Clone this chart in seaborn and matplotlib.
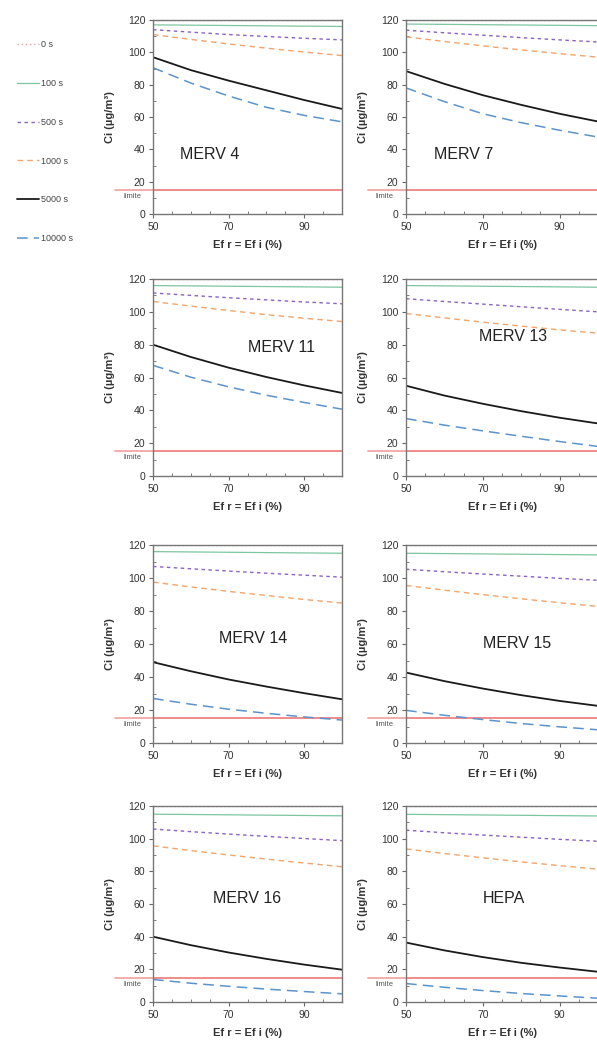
import numpy as np
import pandas as pd
import matplotlib
matplotlib.use("Agg")
import matplotlib.pyplot as plt
import seaborn as sns

# Filter efficiency (Ef r = Ef i, %)
efficiency = [50, 60, 70, 80, 90, 100]

times = ["0 s", "100 s", "500 s", "1000 s", "5000 s", "10000 s"]

# Indoor concentration Ci (µg/m³) per filter class and elapsed time
merv4 = {
    "0 s": [120, 120, 120, 120, 120, 120],
    "100 s": [117, 116.8, 116.6, 116.4, 116.2, 116],
    "500 s": [114, 112.5, 111, 109.8, 108.7, 107.7],
    "1000 s": [111, 108, 105.2, 102.6, 100.2, 98],
    "5000 s": [97, 89, 82.5, 76.5, 70.5, 65],
    "10000 s": [90.5, 81, 73, 66, 61, 57],
}
merv7 = {
    "0 s": [120, 120, 120, 120, 120, 120],
    "100 s": [117.5, 117.3, 117.1, 116.9, 116.7, 116.5],
    "500 s": [113.7, 112.1, 110.6, 109.1, 107.7, 106.4],
    "1000 s": [109.6, 106.7, 104, 101.5, 99.2, 97],
    "5000 s": [88.4, 80.5, 73.5, 67.5, 62, 57.2],
    "10000 s": [78, 69.5, 62, 56.5, 51.8, 47.6],
}
merv11 = {
    "0 s": [120, 120, 120, 120, 120, 120],
    "100 s": [116, 115.8, 115.6, 115.4, 115.2, 115],
    "500 s": [111.5, 110, 108.6, 107.3, 106, 104.9],
    "1000 s": [106.3, 103.5, 100.8, 98.3, 96.1, 94.1],
    "5000 s": [80, 72.5, 66, 60.3, 55.2, 50.6],
    "10000 s": [67.4, 60.2, 54.3, 49.2, 44.8, 40.7],
}
merv13 = {
    "0 s": [120, 120, 120, 120, 120, 120],
    "100 s": [116, 115.8, 115.6, 115.4, 115.2, 115],
    "500 s": [108, 106.3, 104.7, 103.1, 101.5, 100],
    "1000 s": [99, 96.3, 93.7, 91.3, 89, 87],
    "5000 s": [55, 49, 44, 39.5, 35.5, 32],
    "10000 s": [35, 31, 27.5, 24.2, 21, 18],
}
merv14 = {
    "0 s": [120, 120, 120, 120, 120, 120],
    "100 s": [116, 115.8, 115.6, 115.4, 115.2, 115],
    "500 s": [107, 105.6, 104.2, 102.9, 101.7, 100.5],
    "1000 s": [97.5, 94.6, 91.9, 89.4, 87, 84.8],
    "5000 s": [49, 43.5, 38.5, 34.2, 30.2, 26.5],
    "10000 s": [27, 23.5, 20.5, 18, 15.8, 13.9],
}
merv15 = {
    "0 s": [120, 120, 120, 120, 120, 120],
    "100 s": [115, 114.8, 114.6, 114.4, 114.2, 114],
    "500 s": [105.3, 103.8, 102.4, 101.1, 99.8, 98.6],
    "1000 s": [95.5, 92.6, 89.9, 87.4, 85, 82.8],
    "5000 s": [42.7, 37.5, 33, 29, 25.5, 22.5],
    "10000 s": [19.8, 16.8, 14.2, 11.8, 9.8, 8],
}
merv16 = {
    "0 s": [120, 120, 120, 120, 120, 120],
    "100 s": [115, 114.8, 114.6, 114.4, 114.2, 114],
    "500 s": [105.9, 104.3, 102.8, 101.4, 100.1, 98.8],
    "1000 s": [95.6, 92.7, 90, 87.5, 85.1, 82.8],
    "5000 s": [40, 34.8, 30.3, 26.4, 22.9, 19.8],
    "10000 s": [13.8, 11.5, 9.6, 7.9, 6.4, 5],
}
hepa = {
    "0 s": [120, 120, 120, 120, 120, 120],
    "100 s": [114.9, 114.7, 114.5, 114.3, 114.1, 113.9],
    "500 s": [105.2, 103.6, 102.2, 100.9, 99.6, 98.4],
    "1000 s": [93.7, 90.9, 88.3, 85.8, 83.5, 81.3],
    "5000 s": [36.4, 31.6, 27.5, 24, 21.1, 18.5],
    "10000 s": [11.3, 9, 7, 5.2, 3.7, 2.3],
}

panels = [
    ("MERV 4", merv4, (65, 37)),
    ("MERV 7", merv7, (65, 37)),
    ("MERV 11", merv11, (84, 78)),
    ("MERV 13", merv13, (78, 85)),
    ("MERV 14", merv14, (76.5, 63.5)),
    ("MERV 15", merv15, (79, 60.5)),
    ("MERV 16", merv16, (75, 63.5)),
    ("HEPA", hepa, (75.5, 63.5)),
]

LIMIT = 15

palette = {
    "0 s": "#d9a6ad",
    "100 s": "#7cc6a0",
    "500 s": "#8a62c4",
    "1000 s": "#f2a46a",
    "5000 s": "#1a1a1a",
    "10000 s": "#5b93cc",
}
dashes = {
    "0 s": (1, 2),
    "100 s": "",
    "500 s": (2.5, 2.5),
    "1000 s": (4, 3),
    "5000 s": "",
    "10000 s": (7, 4),
}
widths = {"0 s": 1.0, "100 s": 0.9, "500 s": 1.0, "1000 s": 1.0,
          "5000 s": 1.3, "10000 s": 1.1}

sns.set_theme(style="white")
plt.rcParams["font.family"] = ["Liberation Sans", "DejaVu Sans"]

fig = plt.figure(figsize=(5.97, 10.45), dpi=100)

W, H = 597.0, 1045.0
col_left = [153, 406]
col_width = [189, 192]
row_top = [20, 279, 545, 806]
row_bottom = [214, 476, 743, 1002]

axes = []
for i, (name, series, txt) in enumerate(panels):
    r, c = divmod(i, 2)
    ax = fig.add_axes([col_left[c] / W, 1 - row_bottom[r] / H,
                       col_width[c] / W, (row_bottom[r] - row_top[r]) / H])
    axes.append(ax)
    df = pd.DataFrame([
        {"Ef": e, "Ci": v, "t": t}
        for t in times for e, v in zip(efficiency, series[t])
    ])
    sns.lineplot(data=df, x="Ef", y="Ci", hue="t", style="t",
                 hue_order=times, style_order=times,
                 palette=palette, dashes=dashes, legend=False, ax=ax)
    for line, t in zip(ax.get_lines(), times):
        line.set_linewidth(widths[t])
    ax.axhline(LIMIT, color="#f08a8a", lw=1.4, zorder=1)
    # extend the limit line into the left margin with its label
    ax.plot([-0.2, 0], [LIMIT, LIMIT], transform=ax.get_yaxis_transform(),
            color="#f08a8a", lw=1.4, clip_on=False, alpha=0.7)
    ax.text(-0.11, LIMIT - 4, "limite", transform=ax.get_yaxis_transform(),
            ha="center", va="center", fontsize=5.5, color="#555555")
    ax.text(txt[0], txt[1], name, ha="center", va="center",
            fontsize=11.5, color="#222222")

    ax.set_xlim(50, 100)
    ax.set_ylim(0, 120)
    ax.set_xticks([50, 70, 90])
    ax.set_yticks([0, 20, 40, 60, 80, 100, 120])
    ax.set_xticks(np.arange(50, 101, 5), minor=True)
    ax.set_yticks(np.arange(0, 121, 10), minor=True)
    ax.tick_params(axis="both", which="major", direction="out", length=3,
                   width=0.8, color="#666666", labelsize=7.5, pad=2.5,
                   labelcolor="#333333")
    ax.tick_params(axis="both", which="minor", direction="in", length=2,
                   width=0.6, color="#666666")
    ax.tick_params(bottom=True, left=True, which="both")
    for s in ax.spines.values():
        s.set_color("#777777")
        s.set_linewidth(1.0)
    ax.set_xlabel("Ef r = Ef i (%)", fontsize=8, fontweight="bold",
                  color="#333333", labelpad=6)
    ax.set_ylabel("Ci (µg/m³)", fontsize=8, fontweight="bold",
                  color="#333333", labelpad=9)

handles = axes[0].get_lines()[:len(times)]
fig.legend(handles, times, loc="upper left", bbox_to_anchor=(0.015, 1 - 32 / H),
           frameon=False, fontsize=6.5, handlelength=2.4, labelspacing=3.3,
           handletextpad=0.3, labelcolor="#444444")

fig.savefig("out.png", dpi=100)
